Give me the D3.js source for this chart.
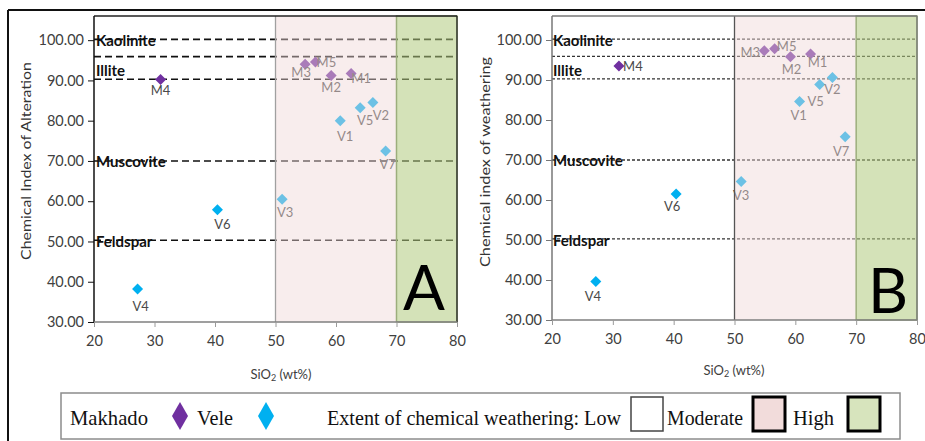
<!DOCTYPE html>
<html>
<head>
<meta charset="utf-8">
<script src="https://cdn.jsdelivr.net/npm/d3@7"></script>
<style>
  body { margin: 0; background: #fff; }
  svg { display: block; }
</style>
</head>
<body>
<svg id="chart" width="925" height="441"></svg>
<script>
// samples and their values
var samples = ['M1', 'M2', 'M3', 'M4', 'M5', 'V1', 'V2', 'V3', 'V4', 'V5', 'V6', 'V7'];
var groups = ['Makhado', 'Makhado', 'Makhado', 'Makhado', 'Makhado', 'Vele', 'Vele', 'Vele', 'Vele', 'Vele', 'Vele', 'Vele'];
var sio2 = [62.5, 59.2, 54.9, 31.0, 56.6, 60.7, 66.1, 51.1, 27.2, 64.0, 40.4, 68.2];
var cia = [91.7, 91.2, 94.0, 90.2, 94.6, 80.0, 84.5, 60.5, 38.2, 83.2, 57.9, 72.5];
var ciw = [96.5, 95.8, 97.3, 93.5, 97.8, 84.6, 90.6, 64.6, 39.6, 88.9, 61.5, 75.8];

var mineralLines = [100.2, 95.9, 90.3, 70.0, 50.3];
var mineralNames = ['Kaolinite', 'Illite', 'Muscovite', 'Feldspar'];
var mineralLabelAt = [100.0, 92.5, 70.0, 50.0];

var xTicks = [20, 30, 40, 50, 60, 70, 80];
var yTicks = [30, 40, 50, 60, 70, 80, 90, 100];
var zones = ['Low', 'Moderate', 'High'];
var zoneFrom = [20, 50, 70];
var zoneTo = [50, 70, 80];

var groupColor = {Makhado: '#7030a0', Vele: '#00b0f0'};
var font = 'Lato, Calibri, "Open Sans", sans-serif';

var svg = d3.select('#chart');

// outer frame (top and left only)
svg.append('line').attr('x1', 8).attr('x2', 925).attr('y1', 10).attr('y2', 10)
    .attr('stroke', '#111').attr('stroke-width', 2);
svg.append('line').attr('x1', 8).attr('x2', 8).attr('y1', 10).attr('y2', 441)
    .attr('stroke', '#111').attr('stroke-width', 2);

function drawPanel(opt) {
    var x = d3.scaleLinear().domain([20, 80]).range(opt.xr);
    var y = d3.scaleLinear().domain([30, 106]).range(opt.yr);
    var g = svg.append('g');

    // mineral reference lines
    g.selectAll('.ref').data(mineralLines).enter().append('line')
        .attr('x1', x(20)).attr('x2', x(80))
        .attr('y1', function(d) { return y(d); }).attr('y2', function(d) { return y(d); })
        .attr('stroke', opt.refColor).attr('stroke-width', opt.refWidth)
        .attr('stroke-dasharray', opt.dash);

    // points
    var idx = d3.range(samples.length);
    g.selectAll('.pt').data(idx).enter().append('path')
        .attr('d', 'M0,-5.5L5.5,0L0,5.5L-5.5,0Z')
        .attr('transform', function(i) { return 'translate(' + x(sio2[i]) + ',' + y(opt.values[i]) + ')'; })
        .attr('fill', function(i) { return groupColor[groups[i]]; });

    g.selectAll('.lbl').data(idx).enter().append('text')
        .attr('x', function(i) { return x(sio2[i]) + opt.offsets[i][0]; })
        .attr('y', function(i) { return y(opt.values[i]) + opt.offsets[i][1]; })
        .attr('text-anchor', 'middle').attr('dominant-baseline', 'central')
        .attr('font-family', font).attr('font-size', 13).attr('fill', '#4a4a4a')
        .text(function(i) { return samples[i]; });

    // translucent weathering zones drawn over the marks
    g.append('rect').attr('x', x(zoneFrom[1])).attr('y', y(106))
        .attr('width', x(zoneTo[1]) - x(zoneFrom[1])).attr('height', y(30) - y(106))
        .attr('fill', 'rgb(240,214,214)').attr('fill-opacity', 0.45);
    g.append('rect').attr('x', x(zoneFrom[2])).attr('y', y(106))
        .attr('width', x(zoneTo[2]) - x(zoneFrom[2])).attr('height', y(30) - y(106))
        .attr('fill', 'rgb(177,202,126)').attr('fill-opacity', 0.55)
        .attr('stroke', '#9cae7c').attr('stroke-width', 1.5);
    g.append('line').attr('x1', x(50)).attr('x2', x(50)).attr('y1', y(106)).attr('y2', y(30))
        .attr('stroke', opt.midColor).attr('stroke-width', 1.3);

    // frame
    g.append('line').attr('x1', x(20)).attr('x2', x(80)).attr('y1', y(106)).attr('y2', y(106))
        .attr('stroke', opt.frameColor).attr('stroke-width', 1.5);
    g.append('line').attr('x1', x(80)).attr('x2', x(80)).attr('y1', y(106)).attr('y2', y(30))
        .attr('stroke', opt.frameColor).attr('stroke-width', 1.3);

    // axes
    var yAxis = d3.axisLeft(y).tickValues(yTicks).tickFormat(d3.format('.2f')).tickSize(6).tickPadding(4);
    var ya = g.append('g').attr('transform', 'translate(' + x(20) + ',0)').call(yAxis);
    ya.select('.domain').attr('d', 'M0,' + y(106) + 'V' + y(30)).attr('stroke', opt.axisColor).attr('stroke-width', 1.5);
    ya.selectAll('.tick line').attr('stroke', opt.axisColor);
    ya.selectAll('text').attr('font-family', font).attr('font-size', 14.5).attr('fill', '#404040');

    var xAxis = d3.axisBottom(x).tickValues(xTicks).tickSize(5).tickPadding(9);
    var xa = g.append('g').attr('transform', 'translate(0,' + y(30) + ')').call(xAxis);
    xa.select('.domain').attr('d', 'M' + x(20) + ',0H' + x(80)).attr('stroke', '#7f7f7f').attr('stroke-width', 1.3);
    xa.selectAll('.tick line').attr('stroke', '#9a9a9a');
    xa.selectAll('text').attr('font-family', font).attr('font-size', 14.5).attr('fill', '#404040');

    // mineral names
    g.selectAll('.min').data(mineralNames).enter().append('text')
        .attr('x', x(20) + opt.minDx)
        .attr('y', function(d, i) { return y(mineralLabelAt[i]); })
        .attr('dominant-baseline', 'central')
        .attr('font-family', font).attr('font-weight', 'bold').attr('font-size', 15).attr('fill', '#111')
        .text(function(d) { return d; });

    // axis titles
    g.append('text')
        .attr('transform', 'translate(' + opt.yTitleX + ',' + opt.yTitleY + ') rotate(-90)')
        .attr('text-anchor', 'middle').attr('font-family', font).attr('font-size', 14).attr('fill', '#333')
        .attr('textLength', opt.yTitleLen).attr('lengthAdjust', 'spacingAndGlyphs')
        .text(opt.yTitle);
    var xt = g.append('text').attr('x', opt.xTitleX).attr('y', opt.xTitleY)
        .attr('text-anchor', 'middle').attr('font-family', font).attr('font-size', 13).attr('fill', '#404040');
    xt.append('tspan').text('SiO');
    xt.append('tspan').attr('font-size', 9).attr('dy', 2).text('2');
    xt.append('tspan').attr('dy', -2).text(opt.xTitleGap + '(wt%)');

    // panel letter
    g.append('text').attr('x', opt.letterX).attr('y', opt.letterY)
        .attr('text-anchor', 'middle').attr('font-family', font).attr('font-size', 62).attr('fill', '#000')
        .text(opt.letter);
}

drawPanel({
    xr: [94, 457], yr: [322, 16], values: cia,
    offsets: [[10, 4], [0, 11], [-4, 8], [0, 10], [11, 0], [5, 15], [8, 12], [3, 13], [3, 17], [5, 12], [5, 14], [2, 13]],
    refColor: '#111', refWidth: 1.6, dash: '7,4',
    midColor: '#a0a0a0', frameColor: '#222', axisColor: '#111',
    minDx: 2, yTitle: 'Chemical Index of Alteration', yTitleX: 31, yTitleY: 161, yTitleLen: 198,
    xTitleX: 281, xTitleY: 379, xTitleGap: '  ',
    letter: 'A', letterX: 424, letterY: 310
});

drawPanel({
    xr: [552, 917], yr: [320, 16], values: ciw,
    offsets: [[7, 8], [1, 12], [-14, 1], [14, 0], [12, -3], [-1, 13], [0, 11], [0, 13], [-3, 14], [-4, 17], [-4, 12], [-4, 14]],
    refColor: '#333', refWidth: 1.3, dash: '3,2',
    midColor: '#555', frameColor: '#777', axisColor: '#777',
    minDx: 1, yTitle: 'Chemical index of  weathering', yTitleX: 490, yTitleY: 162, yTitleLen: 210,
    xTitleX: 734, xTitleY: 375, xTitleGap: ' ',
    letter: 'B', letterX: 888, letterY: 313
});

// legend
var serif = '"Liberation Serif", "Times New Roman", serif';
var leg = svg.append('g');
leg.append('rect').attr('x', 61).attr('y', 393).attr('width', 839).attr('height', 46)
    .attr('fill', '#fff').attr('stroke', '#8c8c8c').attr('stroke-width', 1.5);

var legTexts = ['Makhado', 'Vele', 'Extent of chemical weathering: ' + zones[0], zones[1], zones[2]];
var legTextX = [70, 197, 327, 667, 793];
var legTextLen = [78, 36, 294, 76, 41];
leg.selectAll('.lt').data(legTexts).enter().append('text')
    .attr('x', function(d, i) { return legTextX[i]; }).attr('y', 425)
    .attr('font-family', serif).attr('font-size', 22).attr('fill', '#111')
    .attr('textLength', function(d, i) { return legTextLen[i]; }).attr('lengthAdjust', 'spacingAndGlyphs')
    .text(function(d) { return d; });

var legMarks = ['Makhado', 'Vele'];
var legMarkX = [180, 266];
leg.selectAll('.lm').data(legMarks).enter().append('path')
    .attr('d', 'M0,-14L8,0L0,14L-8,0Z')
    .attr('transform', function(d, i) { return 'translate(' + legMarkX[i] + ',416)'; })
    .attr('fill', function(d) { return groupColor[d]; });

var swatchFill = ['#ffffff', '#f2dcdb', '#d7e4bd'];
var swatchX = [631, 753, 848];
leg.selectAll('.sw').data(zones).enter().append('rect')
    .attr('x', function(d, i) { return swatchX[i]; }).attr('y', 397)
    .attr('width', 32).attr('height', 34)
    .attr('fill', function(d, i) { return swatchFill[i]; })
    .attr('stroke', function(d, i) { return i === 0 ? '#444' : '#000'; })
    .attr('stroke-width', function(d, i) { return i === 0 ? 1.5 : 3; });
</script>
</body>
</html>
